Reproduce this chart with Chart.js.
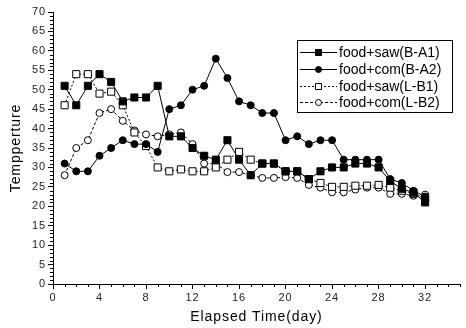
<!DOCTYPE html>
<html><head><meta charset="utf-8">
<script src="https://cdn.jsdelivr.net/npm/chart.js@4.4.1/dist/chart.umd.min.js"></script>
<style>html,body{margin:0;padding:0;background:#fff}canvas{display:block}</style>
</head><body>
<canvas id="c" width="466" height="328"></canvas>
<script>
// values
const days = [1,2,3,4,5,6,7,8,9,10,11,12,13,14,15,16,17,18,19,20,21,22,23,24,25,26,27,28,29,30,31,32];
const sawBA1 = [51,46,51,54,52,47,48,48,51,38,38,35,33,32,37,32,28,31,31,29,29,27,29,30,30,31,31,30,26.5,24.5,23.5,21];
const comBA2 = [31,29,29,33,35,37,36,36,34,45,46,50,51,58,53,47,46,44,44,37,38,36,37,37,32,32,32,32,27,26,24,22.5];
const sawLB1 = [46,54,54,49,49.5,46,39,35.5,30,29,29.5,29,29,30,32,34,32,31,31,29,29,27,26,25,25,25.3,25.3,25.5,24.8,24,23.2,22];
const comLB2 = [28,35,37,44,45,42,39.5,38.5,38,38.5,39,36,31,31,28.8,28.8,28,27.3,27.3,27.5,27.3,25.5,24.8,23.6,23.6,24.3,24.8,24.8,23.2,23.2,22.7,23];
const names = ['food+saw(B-A1)','food+com(B-A2)','food+saw(L-B1)','food+com(L-B2)'];
const xTicks = [0,4,8,12,16,20,24,28,32];
const yTicks = [0,5,10,15,20,25,30,35,40,45,50,55,60,65,70];
const xMax = 35, yMax = 70;

const FONT = '"Liberation Sans", Arial, sans-serif';
const pts = arr => arr.map((v,i)=>({x:days[i], y:v}));
function ds(label, data, style, filled, dash){
  return { label, data:pts(data), borderColor:'#000', borderWidth:1, borderDash:dash, tension:0,
    pointStyle:style, pointRadius: style==='rect'?5:3.5, pointBorderColor:'#000', pointBorderWidth:1,
    pointBackgroundColor: filled?'#000':'#fff', pointHoverRadius:5 };
}

// the reference text is set a little loose
const spacing = {
  id:'spacing',
  beforeDraw(chart){ chart.ctx.letterSpacing = '0.9px'; },
  afterDraw(chart){ chart.ctx.letterSpacing = '0px'; }
};

const minorTicks = {
  id:'minorTicks',
  afterDraw(chart){
    const {ctx, scales:{x,y}} = chart;
    ctx.save(); ctx.strokeStyle='#000'; ctx.lineWidth=1; ctx.beginPath();
    for(let v=0; v<=xMax; v++){ if(xTicks.includes(v)) continue; const px=Math.round(x.getPixelForValue(v))+0.5; ctx.moveTo(px, x.top); ctx.lineTo(px, x.top+3); }
    for(let v=0; v<=yMax; v++){ if(yTicks.includes(v)) continue; const py=Math.round(y.getPixelForValue(v))+0.5; ctx.moveTo(y.right, py); ctx.lineTo(y.right-3, py); }
    ctx.stroke(); ctx.restore();
  }
};

const boxLegend = {
  id:'boxLegend',
  afterDraw(chart){
    const ctx = chart.ctx; ctx.save();
    ctx.fillStyle='#fff'; ctx.fillRect(297,40,155,72);
    ctx.strokeStyle='#000'; ctx.lineWidth=1; ctx.strokeRect(297.5,40.5,155,72);
    chart.data.datasets.forEach((d,i)=>{
      const yy = Math.round(52 + i*16.8)+0.5;
      ctx.setLineDash(d.borderDash||[]); ctx.strokeStyle='#000';
      ctx.beginPath(); ctx.moveTo(300,yy); ctx.lineTo(337,yy); ctx.stroke(); ctx.setLineDash([]);
      ctx.fillStyle = d.pointBackgroundColor; ctx.beginPath();
      if(d.pointStyle==='rect') ctx.rect(315.5,yy-3,6,6); else ctx.arc(318.5,yy,3,0,Math.PI*2);
      ctx.fill(); ctx.stroke();
      ctx.fillStyle='#000'; ctx.font='14px '+FONT; ctx.textBaseline='middle'; ctx.textAlign='left';
      ctx.fillText(d.label, 339, yy+0.5);
    });
    ctx.restore();
  }
};

new Chart(document.getElementById('c'), {
  type:'line',
  data:{ datasets:[
    ds(names[0], sawBA1, 'rect', true, []),
    ds(names[1], comBA2, 'circle', true, []),
    ds(names[2], sawLB1, 'rect', false, [2,2]),
    ds(names[3], comLB2, 'circle', false, [3,2])
  ]},
  options:{
    responsive:false, animation:false, devicePixelRatio:1,
    layout:{ padding:{ top:12, right:1, left:0, bottom:0 } },
    plugins:{ legend:{display:false}, tooltip:{enabled:false} },
    scales:{
      x:{ type:'linear', min:0, max:xMax,
        afterBuildTicks: s => { s.ticks = xTicks.map(v=>({value:v})); },
        afterFit: s => { s.height = 44; },
        grid:{ drawOnChartArea:false, drawTicks:true, tickLength:5, color:'#000' },
        border:{ display:true, color:'#000', width:1 },
        ticks:{ autoSkip:false, maxRotation:0, padding:2, color:'#222', font:{ family:FONT, size:11 } },
        title:{ display:true, text:'Elapsed Time(day)', color:'#000', font:{ family:FONT, size:14 }, padding:{ top:0, bottom:2 } }
      },
      y:{ type:'linear', min:0, max:yMax,
        afterBuildTicks: s => { s.ticks = yTicks.map(v=>({value:v})); },
        afterFit: s => { s.width = 53; },
        grid:{ drawOnChartArea:false, drawTicks:true, tickLength:5, color:'#000' },
        border:{ display:true, color:'#000', width:1 },
        ticks:{ autoSkip:false, padding:2, color:'#222', font:{ family:FONT, size:11 } },
        title:{ display:true, text:'Tempperture', color:'#000', font:{ family:FONT, size:14 }, padding:{ top:8, bottom:0 } }
      }
    }
  },
  plugins:[spacing, minorTicks, boxLegend]
});
</script>
</body></html>
